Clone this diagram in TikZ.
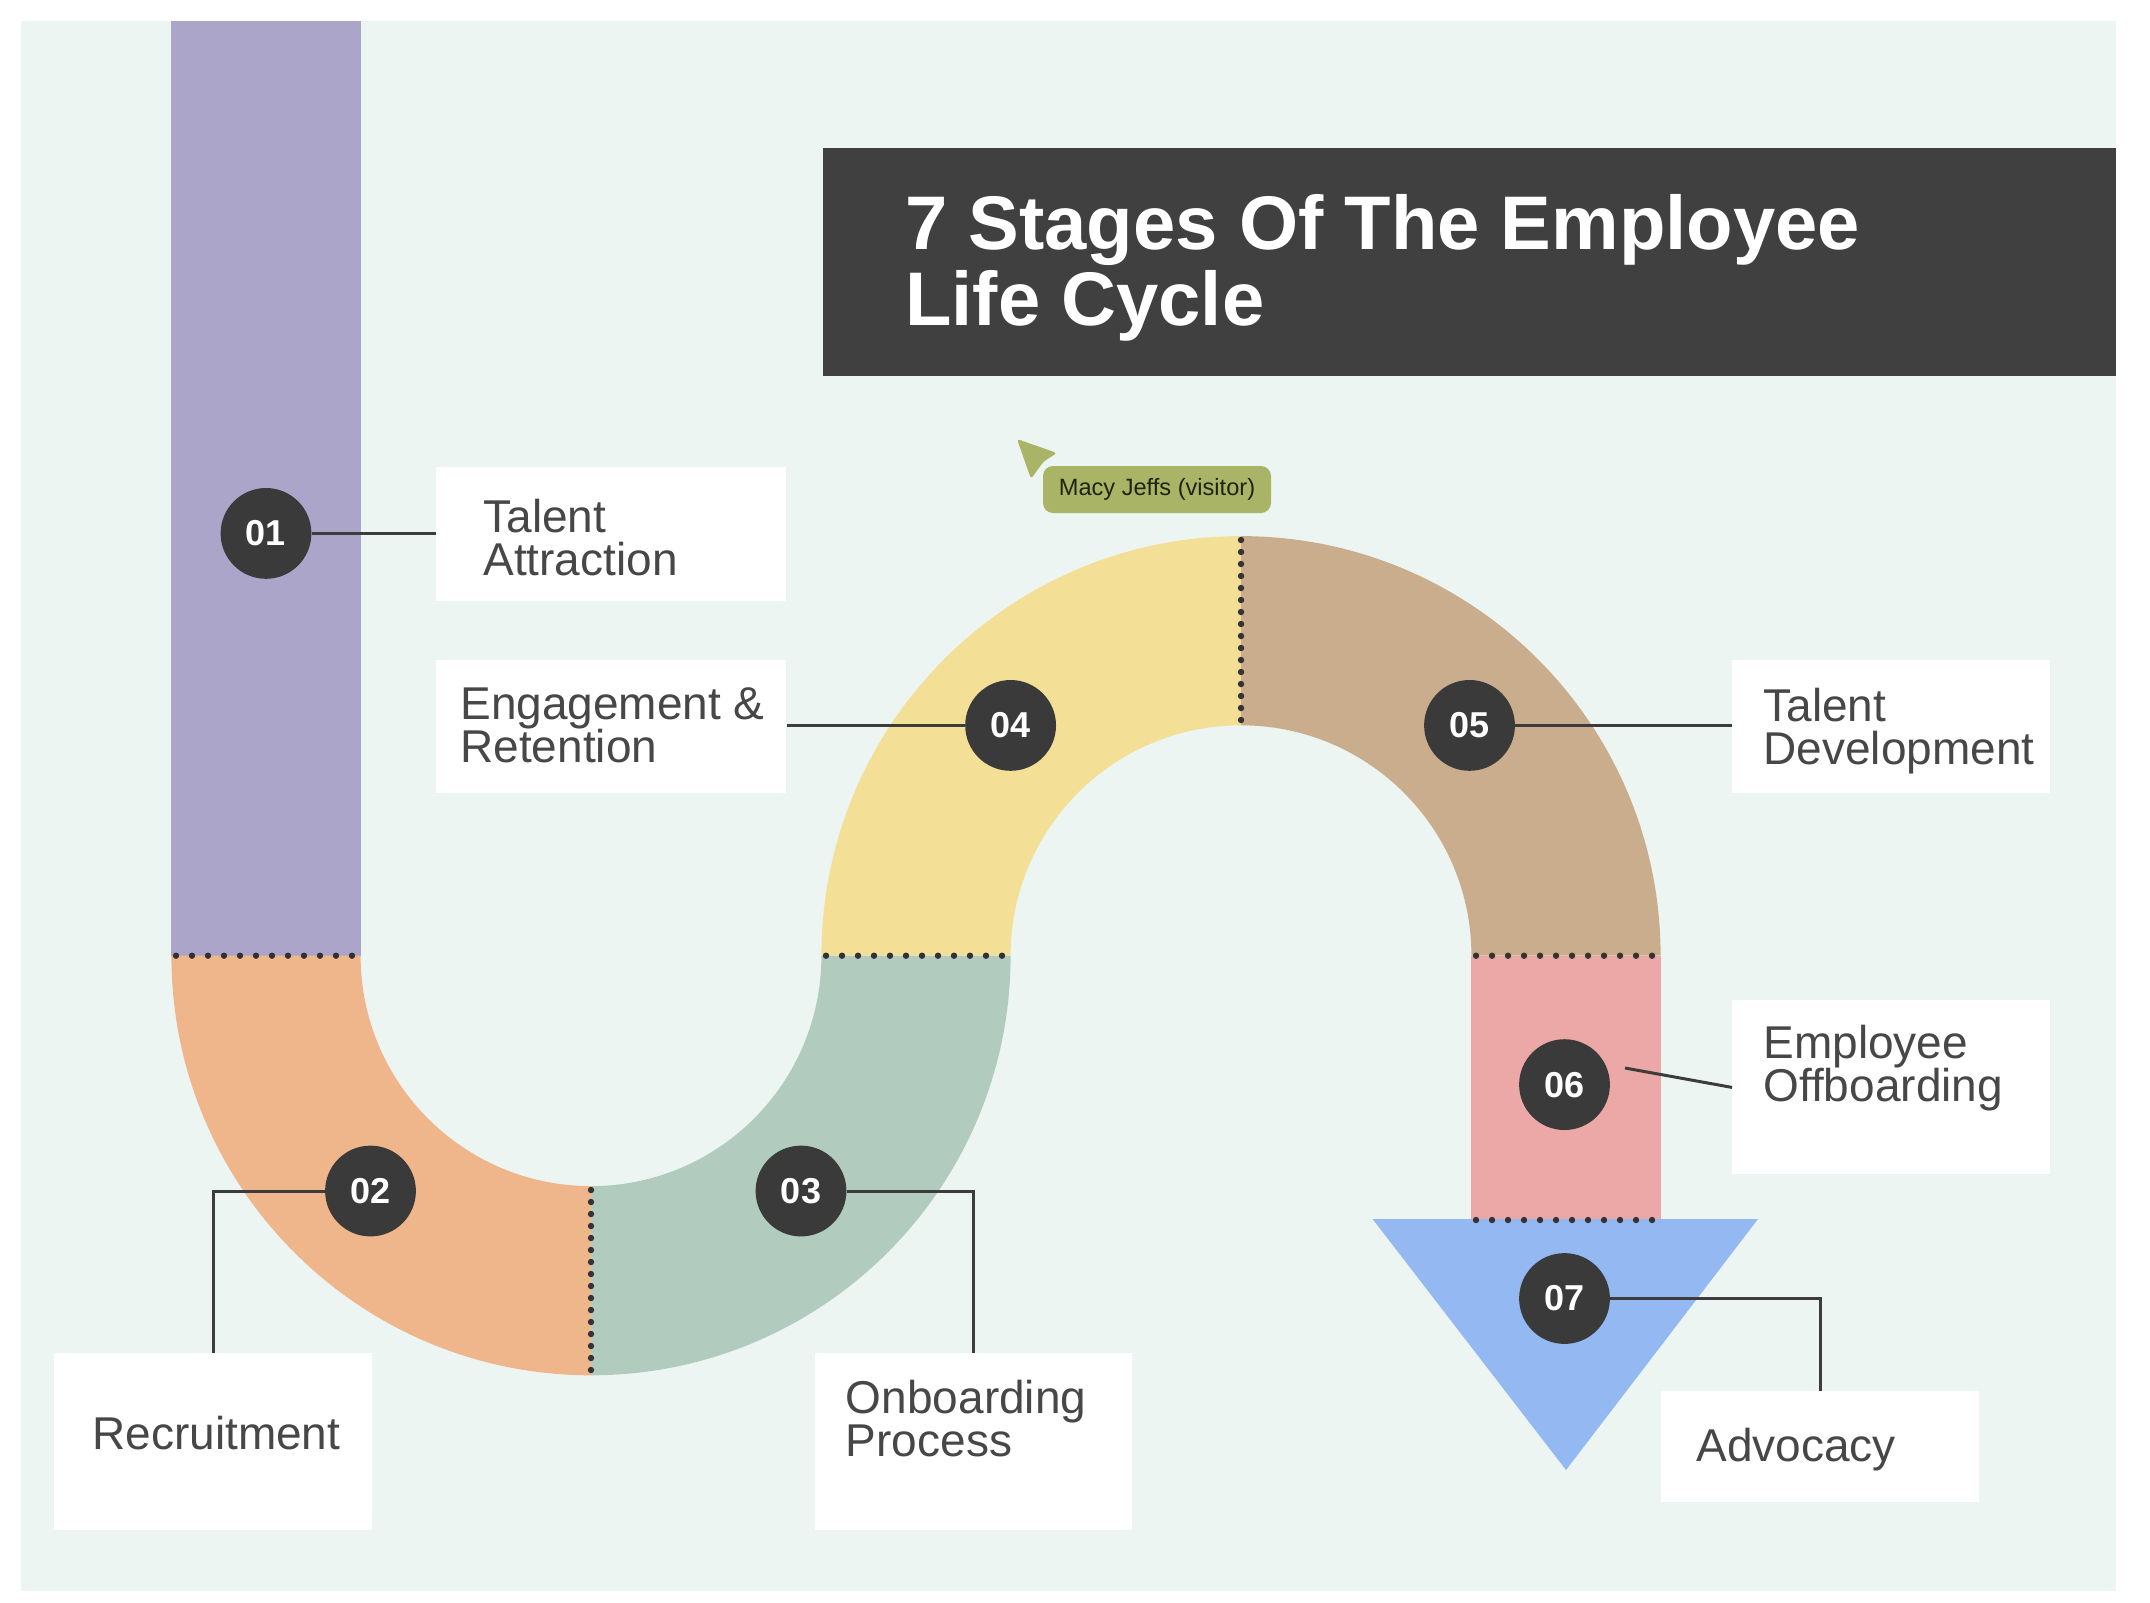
\documentclass[tikz,border=0pt]{standalone}
\usepackage{fontspec}
\setmainfont{Liberation Sans}
\lineskiplimit=-100pt
\definecolor{bgc}{HTML}{EDF5F3}
\definecolor{purplec}{HTML}{ABA6C9}
\definecolor{orangec}{HTML}{EFB68B}
\definecolor{greenc}{HTML}{B1CBBF}
\definecolor{yellowc}{HTML}{F4DF97}
\definecolor{tanc}{HTML}{C9AD8D}
\definecolor{pinkc}{HTML}{EBA8A6}
\definecolor{bluec}{HTML}{93B8F2}
\definecolor{circc}{HTML}{3A3A3A}
\definecolor{titlec}{HTML}{404040}
\definecolor{tagc}{HTML}{AAB466}
\definecolor{tagtext}{HTML}{1E2410}
\definecolor{labtext}{HTML}{474747}
\definecolor{connc}{HTML}{3C3C3C}
\definecolor{dotc}{HTML}{333333}
\tikzset{
  numc/.style={circle, fill=circc, minimum size=45.4pt, inner sep=0pt, text=white, font=\bfseries\fontsize{18}{18}\selectfont},
  lbox/.style={fill=white, inner sep=0pt, anchor=north west},
  ltext/.style={anchor=north west, inner sep=0pt, align=left, text=labtext, font=\fontsize{23}{21.5}\selectfont},
  conn/.style={draw=connc, line width=1.5pt},
  dotsH/.style={draw=dotc, line width=3.2pt, line cap=round, dash pattern=on 0pt off 8pt},
  dotsV/.style={draw=dotc, line width=3.2pt, line cap=round, dash pattern=on 0pt off 6pt},
  tagn/.style={fill=tagc, rounded corners=5pt, minimum width=114pt, minimum height=23.5pt, inner sep=0pt, text=tagtext, font=\fontsize{11.8}{12}\selectfont}
}
\begin{document}
\begin{tikzpicture}[x=0.5pt, y=0.5pt]
\useasboundingbox (0,0) rectangle (2150,-1602);
\fill[white] (0,0) rectangle (2150,-1602);
\fill[bgc] (20.6,-20.6) rectangle (2115.8,-1590.6);
% title
\node[fill=titlec, minimum width=646.4pt, minimum height=114pt, inner sep=0pt, anchor=north west] (tbox) at (823,-148) {};
\node[anchor=north west, inner sep=0pt, align=left, text=white, font=\bfseries\fontsize{38}{38}\selectfont] (title) at (905,-194.5) {7 Stages Of The Employee\\Life Cycle};
% path segments
\fill[purplec] (171.4,-20.6) rectangle (360.6,-955.7);
\fill[orangec] (171.4,-955.7) arc[start angle=180, end angle=270, radius=209.8pt] -- (591,-1186.1) arc[start angle=270, end angle=180, radius=115.2pt] -- cycle;
\fill[greenc] (591,-1375.3) arc[start angle=270, end angle=360, radius=209.8pt] -- (821.4,-955.7) arc[start angle=0, end angle=-90, radius=115.2pt] -- cycle;
\fill[yellowc] (821.4,-955.7) arc[start angle=180, end angle=90, radius=209.8pt] -- (1241,-725.3) arc[start angle=90, end angle=180, radius=115.2pt] -- cycle;
\fill[tanc] (1241,-536.1) arc[start angle=90, end angle=0, radius=209.8pt] -- (1471.4,-955.7) arc[start angle=0, end angle=90, radius=115.2pt] -- cycle;
\fill[pinkc] (1471.4,-955.7) rectangle (1660.6,-1220);
\fill[bluec] (1372.6,-1219) -- (1758,-1219) -- (1566,-1470) -- cycle;
% dotted separators
\draw[dotsH] (176,-955.7) -- (358,-955.7);
\draw[dotsV] (591,-1190) -- (591,-1372);
\draw[dotsH] (826,-955.7) -- (1008,-955.7);
\draw[dotsV] (1241,-540) -- (1241,-722);
\draw[dotsH] (1476,-955.7) -- (1658,-955.7);
\draw[dotsH] (1476,-1220) -- (1658,-1220);
% label boxes
\node[lbox, minimum width=175pt, minimum height=67pt] (b1) at (436,-467) {};
\node[lbox, minimum width=175pt, minimum height=66.5pt] (b4) at (436,-660) {};
\node[lbox, minimum width=159pt, minimum height=66.5pt] (b5) at (1732,-660) {};
\node[lbox, minimum width=159pt, minimum height=87pt] (b6) at (1732,-1000) {};
\node[lbox, minimum width=159pt, minimum height=55.5pt] (b7) at (1661,-1391) {};
\node[lbox, minimum width=159pt, minimum height=88.5pt] (b2) at (54,-1353) {};
\node[lbox, minimum width=158.5pt, minimum height=88.5pt] (b3) at (815,-1353) {};
% label texts
\node[ltext] (t1) at (483,-499) {Talent\\Attraction};
\node[ltext] (t4) at (460,-687) {Engagement \&\\Retention};
\node[ltext] (t5) at (1763,-688) {Talent\\Development};
\node[ltext] (t6) at (1763,-1025) {Employee\\Offboarding};
\node[ltext] (t2) at (92,-1416) {Recruitment};
\node[ltext] (t3) at (845.5,-1380) {Onboarding\\Process};
\node[ltext] (t7) at (1696,-1428) {Advocacy};
% number circles
\node[numc] (c1) at (266,-533.4) {01};
\node[numc] (c2) at (370.5,-1191) {02};
\node[numc] (c3) at (801,-1191) {03};
\node[numc] (c4) at (1010.6,-725.4) {04};
\node[numc] (c5) at (1469.5,-725.4) {05};
\node[numc] (c6) at (1564.5,-1084.6) {06};
\node[numc] (c7) at (1564.5,-1298.5) {07};
% connectors
\draw[conn] (c1.east) -- (c1.east -| b1.west);
\draw[conn] (c4.west) -- (c4.west -| b4.east);
\draw[conn] (c5.east) -- (c5.east -| b5.west);
\coordinate (c6s) at (1625,-1068);
\draw[conn] (c6s) -- (b6.west);
\draw[conn] (c7.east) -| (b7.north);
\draw[conn] (c2.west) -| (b2.north);
\draw[conn] (c3.east) -| (b3.north);
% visitor tag
\fill[tagc, rounded corners=1.5pt] (1017,-439) -- (1057,-453) -- (1043.4,-461.7) -- (1031,-479) -- cycle;
\node[tagn] (tag) at (1157,-489.5) {Macy Jeffs (visitor)};
\end{tikzpicture}
\end{document}
